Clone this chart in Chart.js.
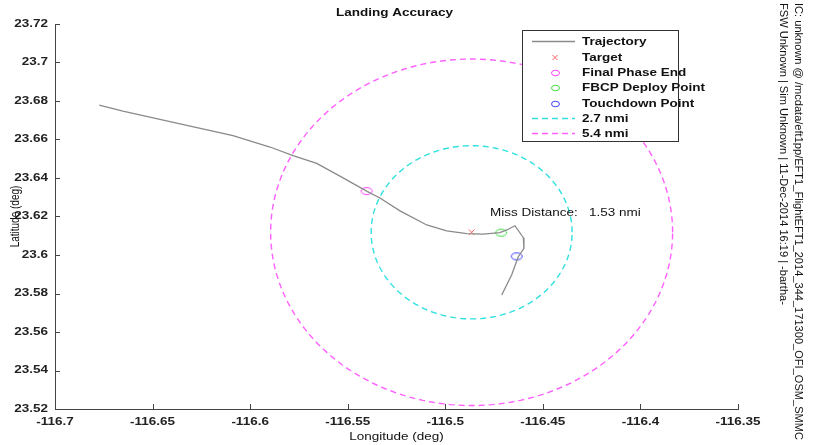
<!DOCTYPE html>
<html>
<head>
<meta charset="utf-8">
<title>Landing Accuracy</title>
<script src="https://cdn.jsdelivr.net/npm/chart.js@4.4.1/dist/chart.umd.min.js"></script>
<style>
    html, body { margin: 0; padding: 0; background: #fff; }
    #wrap { width: 815px; height: 445px; }
</style>
</head>
<body>
<div id="wrap"><canvas id="landingChart" width="815" height="445"></canvas></div>
<script>
// Trajectory (deg)
const trajectoryLon = [-116.6773, -116.6652, -116.6359, -116.6088, -116.5898, -116.5780, -116.5659,
    -116.5540, -116.5403, -116.5335, -116.5232, -116.5095, -116.4993, -116.4890, -116.4807,
    -116.4720, -116.4685, -116.4643, -116.4600, -116.4597, -116.4626, -116.4660, -116.4711];
const trajectoryLat = [23.6779, 23.6748, 23.6681, 23.6620, 23.6561, 23.6516, 23.6476,
    23.6410, 23.6332, 23.6296, 23.6229, 23.6156, 23.6125, 23.6111, 23.6108,
    23.6116, 23.6130, 23.6152, 23.6090, 23.6035, 23.5991, 23.5896, 23.5792];

// Event markers
const markerNames = ['Target', 'Final Phase End', 'FBCP Deploy Point', 'Touchdown Point'];
const markerLon = [-116.4865, -116.5403, -116.4714, -116.4634];
const markerLat = [23.6118, 23.6332, 23.6116, 23.5993];

// Range rings round the target
const ringNames = ['2.7 nmi', '5.4 nmi'];
const ringLatRadius = [0.045, 0.090];
const ringLonRadius = [0.0515, 0.103];

// Axis ticks
const xTicks = [-116.7, -116.65, -116.6, -116.55, -116.5, -116.45, -116.4, -116.35];
const yTicks = [23.52, 23.54, 23.56, 23.58, 23.6, 23.62, 23.64, 23.66, 23.68, 23.7, 23.72];

const missDistanceText = 'Miss Distance:   1.53 nmi';
const stampLines = [
    'FSW Unknown | Sim Unknown | 11-Dec-2014 16:19 | -bartha-',
    'IC: unknown @ /mcdata/eft1pp/EFT1_FlightEFT1_2014_344_171300_OFI_OSM_SMMC'
];

(function() {
    'use strict';

    const FONT = '"Liberation Sans", Arial, Helvetica, sans-serif';
    const STRETCH = 1.35;   // the original figure is stretched sideways

    /**
     * Small ellipse used as marker
     */
    function ellipseMarker(color, w, h) {
        const c = document.createElement('canvas');
        c.width = w + 3;
        c.height = h + 3;
        const g = c.getContext('2d');
        g.strokeStyle = color;
        g.lineWidth = 1;
        g.beginPath();
        g.ellipse(c.width / 2, c.height / 2, w / 2, h / 2, 0, 0, Math.PI * 2);
        g.stroke();
        return c;
    }

    /**
     * Ring outline built from center and radii
     */
    function ringPoints(idx) {
        const pts = [];
        for (let k = 0; k <= 180; k++) {
            const a = k / 180 * Math.PI * 2;
            pts.push({
                x: markerLon[0] + ringLonRadius[idx] * Math.cos(a),
                y: markerLat[0] + ringLatRadius[idx] * Math.sin(a)
            });
        }
        return pts;
    }

    function fmt(v) {
        return parseFloat(Number(v).toFixed(3)).toString();
    }

    /**
     * Draw text squeezed/stretched horizontally
     */
    function stretchText(ctx, text, x, y, align, font) {
        ctx.save();
        ctx.font = font;
        ctx.textAlign = 'left';
        ctx.textBaseline = 'middle';
        const w = ctx.measureText(text).width * STRETCH;
        let x0 = x;
        if (align === 'center') x0 = x - w / 2;
        if (align === 'right') x0 = x - w;
        ctx.translate(x0, y);
        ctx.scale(STRETCH, 1);
        ctx.fillText(text, 0, 0);
        ctx.restore();
    }

    const markerColors = ['#ff6060', '#ff40ff', '#40dd40', '#4040ff'];
    const ringColors = ['#30e0e0', '#ff60ff'];

    const datasets = [];
    datasets.push({
        label: 'Trajectory',
        data: trajectoryLon.map((x, i) => ({ x: x, y: trajectoryLat[i] })),
        showLine: true,
        borderColor: '#8a8a8a',
        borderWidth: 1.3,
        pointRadius: 0,
        legendKind: 'line'
    });
    markerNames.forEach(function(name, i) {
        datasets.push({
            label: name,
            data: [{ x: markerLon[i], y: markerLat[i] }],
            pointStyle: i === 0 ? 'crossRot' : ellipseMarker(markerColors[i], 11, 7),
            legendImage: i === 0 ? null : ellipseMarker(markerColors[i], 8, 5.5),
            pointRadius: 4,
            borderColor: markerColors[i],
            backgroundColor: 'transparent',
            pointBorderWidth: 1,
            legendKind: 'marker'
        });
    });
    ringNames.forEach(function(name, i) {
        datasets.push({
            label: name,
            data: ringPoints(i),
            showLine: true,
            borderColor: ringColors[i],
            borderWidth: 1.4,
            borderDash: [6, 4],
            pointRadius: 0,
            legendKind: 'dash'
        });
    });

    // Inward ticks, tick labels, texts, legend
    const decorPlugin = {
        id: 'decor',
        afterDraw: function(chart) {
            const ctx = chart.ctx;
            const area = chart.chartArea;
            const xs = chart.scales.x;
            const ys = chart.scales.y;
            const tickFont = 'bold 10px ' + FONT;
            ctx.save();

            // inward ticks
            ctx.strokeStyle = '#444';
            ctx.lineWidth = 1;
            ctx.beginPath();
            xTicks.forEach(function(v) {
                const px = Math.round(xs.getPixelForValue(v)) + 0.5;
                ctx.moveTo(px, area.bottom);
                ctx.lineTo(px, area.bottom - 5);
            });
            yTicks.forEach(function(v) {
                const py = Math.round(ys.getPixelForValue(v)) + 0.5;
                ctx.moveTo(area.left, py);
                ctx.lineTo(area.left + 5, py);
            });
            ctx.stroke();

            // tick labels
            ctx.fillStyle = '#222';
            xTicks.forEach(function(v) {
                stretchText(ctx, fmt(v), xs.getPixelForValue(v), 422, 'center', tickFont);
            });
            yTicks.forEach(function(v) {
                stretchText(ctx, fmt(v), area.left - 7, ys.getPixelForValue(v), 'right', tickFont);
            });

            // title and axis titles
            ctx.fillStyle = '#111';
            const midX = (area.left + area.right) / 2;
            stretchText(ctx, 'Landing Accuracy', midX - 2, 13, 'center', 'bold 10px ' + FONT);
            stretchText(ctx, 'Longitude (deg)', midX, 437, 'center', '10px ' + FONT);
            ctx.save();
            ctx.font = '10px ' + FONT;
            ctx.textAlign = 'center';
            ctx.textBaseline = 'middle';
            ctx.translate(15, (area.top + area.bottom) / 2);
            ctx.rotate(-Math.PI / 2);
            ctx.scale(1, STRETCH);
            ctx.fillText('Latitude (deg)', 0, 0);
            ctx.restore();

            // miss distance note
            stretchText(ctx, missDistanceText, 490, 213, 'left', '10px ' + FONT);

            // vertical stamp on the right
            ctx.font = '10px ' + FONT;
            ctx.textAlign = 'left';
            ctx.textBaseline = 'middle';
            const stampX = [783, 798];
            const fit = 437 / ctx.measureText(stampLines[1]).width;
            stampLines.forEach(function(line, i) {
                ctx.save();
                ctx.translate(stampX[i], 3);
                ctx.rotate(Math.PI / 2);
                ctx.scale(fit, 1);
                ctx.fillText(line, 0, 0);
                ctx.restore();
            });

            // legend
            const box = { x: 522.5, y: 30.5, w: 156, h: 111 };
            ctx.fillStyle = '#fff';
            ctx.fillRect(box.x, box.y, box.w, box.h);
            ctx.strokeStyle = '#333';
            ctx.lineWidth = 1;
            ctx.strokeRect(box.x, box.y, box.w, box.h);
            chart.data.datasets.forEach(function(ds, i) {
                const y = Math.round(41.3 + i * 15.3);
                ctx.save();
                ctx.strokeStyle = ds.borderColor;
                if (ds.legendKind === 'line' || ds.legendKind === 'dash') {
                    ctx.lineWidth = ds.borderWidth;
                    ctx.setLineDash(ds.borderDash || []);
                    ctx.beginPath();
                    ctx.moveTo(532, y + 0.5);
                    ctx.lineTo(575, y + 0.5);
                    ctx.stroke();
                } else if (ds.pointStyle === 'crossRot') {
                    ctx.lineWidth = 1;
                    ctx.beginPath();
                    ctx.moveTo(552.5, y - 2);
                    ctx.lineTo(557.5, y + 3);
                    ctx.moveTo(557.5, y - 2);
                    ctx.lineTo(552.5, y + 3);
                    ctx.stroke();
                } else {
                    const img = ds.legendImage;
                    ctx.drawImage(img, Math.round(555 - img.width / 2), Math.round(y - img.height / 2 + 0.5));
                }
                ctx.restore();
                ctx.fillStyle = '#111';
                stretchText(ctx, ds.label, 582, y + 1, 'left', 'bold 10px ' + FONT);
            });

            ctx.restore();
        }
    };

    const ctx = document.getElementById('landingChart').getContext('2d');
    new Chart(ctx, {
        type: 'scatter',
        data: { datasets: datasets },
        options: {
            responsive: false,
            animation: false,
            events: [],
            layout: { padding: { left: 0, top: 24, right: 77, bottom: 0 } },
            plugins: {
                legend: { display: false },
                tooltip: { enabled: false },
                title: { display: false }
            },
            scales: {
                x: {
                    type: 'linear',
                    min: -116.7,
                    max: -116.35,
                    afterBuildTicks: function(scale) {
                        scale.ticks = xTicks.map(v => ({ value: v }));
                    },
                    afterFit: function(scale) { scale.height = 36; },
                    grid: { display: false, drawTicks: false },
                    border: { display: true, color: '#444', width: 1 },
                    ticks: { display: false }
                },
                y: {
                    type: 'linear',
                    min: 23.52,
                    max: 23.72,
                    afterBuildTicks: function(scale) {
                        scale.ticks = yTicks.map(v => ({ value: v }));
                    },
                    afterFit: function(scale) { scale.width = 55; },
                    grid: { display: false, drawTicks: false },
                    border: { display: true, color: '#444', width: 1 },
                    ticks: { display: false }
                }
            }
        },
        plugins: [decorPlugin]
    });
})();
</script>
</body>
</html>
